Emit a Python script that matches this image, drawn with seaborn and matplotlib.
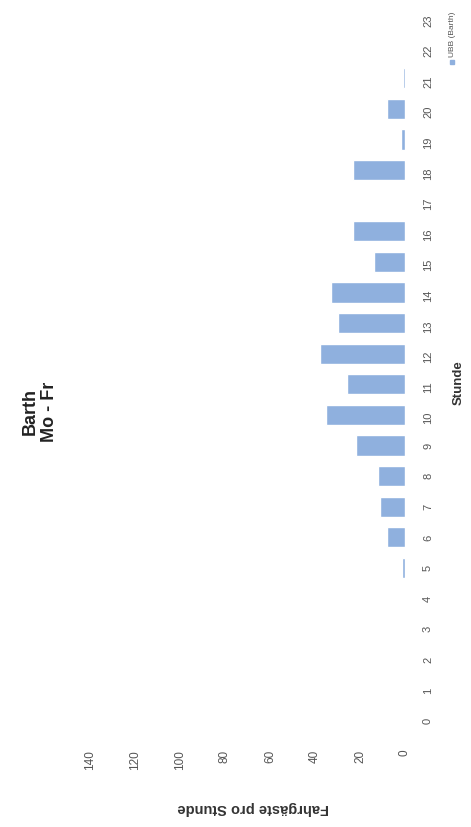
import matplotlib
matplotlib.use('Agg')
import matplotlib.pyplot as plt
from matplotlib.patches import Rectangle
import seaborn as sns
import pandas as pd

# ---- data ----
hours = list(range(24))
passengers = [0, 0, 0, 0, 0, 1.5, 8, 11, 12, 22, 35, 26, 38, 30, 33, 14, 23, 0, 23, 2, 8, 1, 0, 0]
value_ticks = [0, 20, 40, 60, 80, 100, 120, 140]
title_text = "Barth\nMo - Fr"
series_name = "UBB (Barth)"
value_label = "Fahrgäste pro Stunde"
hour_label = "Stunde"

bar_color = "#8fb0de"

sns.set_theme(style="white")
plt.rcParams['font.family'] = ['Liberation Sans', 'DejaVu Sans']

W, H = 471, 828
fig = plt.figure(figsize=(W / 100, H / 100), dpi=100)
fig.patch.set_facecolor('white')

ax_left, ax_right = 90, 405
ax_top, ax_bottom = 2.7, 737.3
ax = fig.add_axes([ax_left / W, 1 - ax_bottom / H, (ax_right - ax_left) / W, (ax_bottom - ax_top) / H])

df = pd.DataFrame({hour_label: [str(h) for h in hours], value_label: passengers})
sns.barplot(data=df, x=value_label, y=hour_label, orient='h', order=[str(h) for h in hours],
            color=bar_color, saturation=1, width=0.66, ax=ax)

ax.set_ylim(-0.5, 23.5)
ax.set_xlim(140, 0)
for s in ax.spines.values():
    s.set_visible(False)
ax.grid(False)

ax.set_xticks(value_ticks)
ax.set_xticklabels([str(v) for v in value_ticks], rotation=90, fontsize=8.5, color='#555555')
ax.tick_params(axis='x', length=0, pad=9)

ax.yaxis.tick_right()
ax.set_yticks(range(24))
ax.set_yticklabels([str(h) for h in hours], rotation=90, fontsize=8, color='#555555')
ax.tick_params(axis='y', length=0, pad=13)

ax.set_xlabel(value_label, rotation=180, fontsize=10.5, fontweight='bold', color='#333333')
ax.xaxis.set_label_coords(((253 - ax_left) / (ax_right - ax_left)), ((H - 808) - (H - ax_bottom)) / (ax_bottom - ax_top))
ax.xaxis.label.set_va('center')
ax.xaxis.label.set_ha('center')

ax.yaxis.set_label_position('right')
ax.set_ylabel(hour_label, rotation=90, fontsize=9.5, fontweight='bold', color='#333333')
ax.yaxis.set_label_coords((459 - ax_left) / (ax_right - ax_left), ((H - 383) - (H - ax_bottom)) / (ax_bottom - ax_top))
ax.yaxis.label.set_va('center')
ax.yaxis.label.set_ha('center')

fig.text(40 / W, 1 - 412 / H, title_text, rotation=90, ha='center', va='center',
         multialignment='center', fontsize=13, fontweight='bold', color='#222222')

fig.text(452 / W, 1 - 57 / H, series_name, rotation=90, ha='center', va='bottom',
         fontsize=6, color='#555555')
fig.patches.append(Rectangle((450 / W, 1 - 65 / H), 4 / W, 4 / H, color=bar_color,
                             transform=fig.transFigure, figure=fig))

fig.savefig('out.png', dpi=100, facecolor='white')
